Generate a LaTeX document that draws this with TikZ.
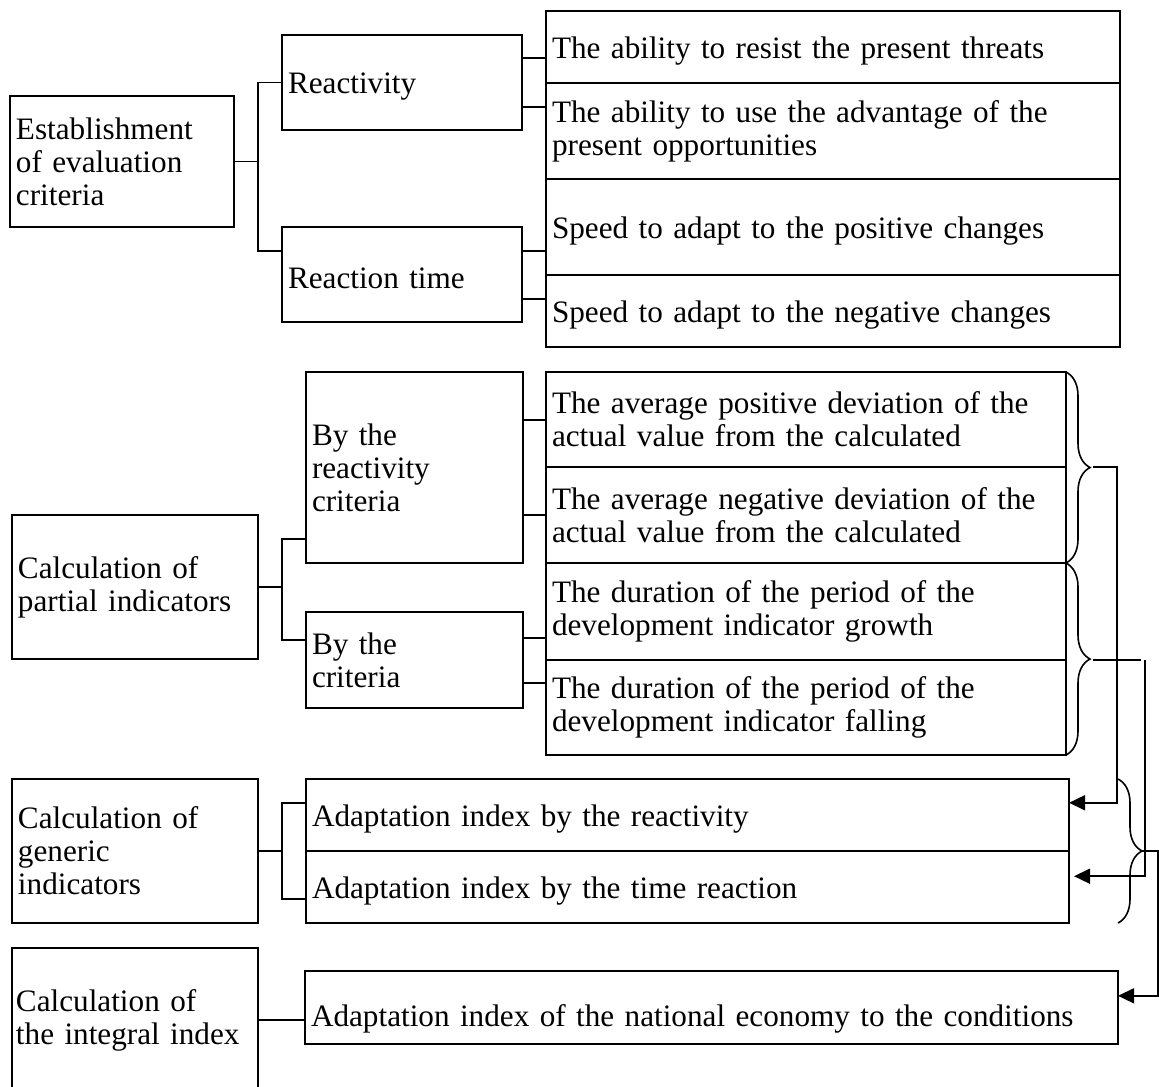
\documentclass[tikz,border=0pt]{standalone}
\usepackage{fontspec}
\setmainfont{Liberation Serif}
\usetikzlibrary{calc,arrows.meta,decorations.pathreplacing}
\newcommand\chartfont{\fontsize{15.6pt}{16.5pt}\selectfont}
\begin{document}
\begin{tikzpicture}[x=0.5pt,y=-0.5pt,
  box/.style={draw, line width=0.95pt, rectangle, anchor=north west,
    inner xsep=3pt, inner ysep=0pt, outer sep=0pt, align=left, font=\chartfont},
  oneline/.style={text height=14.5pt},
  link/.style={line width=0.8pt},
  arr/.style={line width=0.8pt, -{Triangle[length=8pt,width=7.5pt]}},
  brc/.style={line width=0.8pt, decorate, decoration={brace, amplitude=12pt}}
]
\useasboundingbox (0,0) rectangle (1159,1086);

% --- stage 1: evaluation criteria
\node[box, text width=106pt, minimum height=65.5pt] (A) at (10,96) {Establishment\\of evaluation\\criteria};
\node[box, oneline, text width=114pt, minimum height=47.5pt] (R1) at (282,35) {Reactivity};
\node[box, oneline, text width=114pt, minimum height=47.5pt] (R2) at (282,227) {Reaction time};
\node[box, oneline, text width=281pt, minimum height=36pt] (T1) at (546,11) {The ability to resist the present threats};
\node[box, text width=281pt, minimum height=48pt] (T2) at (546,83) {The ability to use the advantage of the\\present opportunities};
\node[box, oneline, text width=281pt, minimum height=48pt] (T3) at (546,179) {Speed to adapt to the positive changes};
\node[box, oneline, text width=281pt, minimum height=36pt] (T4) at (546,275) {Speed to adapt to the negative changes};

% --- stage 2: partial indicators
\node[box, text width=117pt, minimum height=72pt] (B) at (12,515) {Calculation of\\partial indicators};
\node[box, text width=102.5pt, minimum height=95.5pt] (M1) at (306,372) {By the\\reactivity\\criteria};
\node[box, text width=102.5pt, minimum height=48pt] (M2) at (306,612) {By the\\criteria};
\node[box, text width=254pt, minimum height=47.5pt] (P1) at (546,372) {The average positive deviation of the\\actual value from the calculated};
\node[box, text width=254pt, minimum height=48pt] (P2) at (546,467) {The average negative deviation of the\\actual value from the calculated};
\node[box, text width=254pt, minimum height=48.5pt] (P3) at (546,563) {The duration of the period of the\\development indicator growth};
\node[box, text width=254pt, minimum height=47.5pt] (P4) at (546,660) {The duration of the period of the\\development indicator falling};

% --- stage 3: generic indicators
\node[box, text width=117pt, minimum height=72pt] (G) at (12,779) {Calculation of\\generic\\indicators};
\node[box, oneline, text width=375.5pt, minimum height=36pt] (C1) at (306,779) {Adaptation index by the reactivity};
\node[box, oneline, text width=375.5pt, minimum height=36pt] (C2) at (306,851) {Adaptation index by the time reaction};

% --- stage 4: integral index
\node[box, inner xsep=2pt, text width=119pt, minimum height=72pt] (I) at (12,948) {Calculation of\\the integral index};
\node[box, text height=22pt, text width=400.5pt, minimum height=36.5pt] (D) at (305,971) {Adaptation index of the national economy to the conditions};

% tree connectors
\coordinate (ja) at (258,0);
\coordinate (jb) at (282,0);
\coordinate (r2in) at ($(R2.north west)!0.25!(R2.south west)$);
\draw[link] (A.east) -- (ja |- A.east);
\draw[link] (R1.west) -- (ja |- R1.west) -- (ja |- r2in) -- (r2in);

\coordinate (r1a) at ($(R1.north east)!0.24!(R1.south east)$);
\coordinate (r1b) at ($(R1.north east)!0.76!(R1.south east)$);
\coordinate (r2a) at ($(R2.north east)!0.25!(R2.south east)$);
\coordinate (r2b) at ($(R2.north east)!0.76!(R2.south east)$);
\draw[link] (r1a) -- (T1.west |- r1a);
\draw[link] (r1b) -- (T2.west |- r1b);
\draw[link] (r2a) -- (T3.west |- r2a);
\draw[link] (r2b) -- (T4.west |- r2b);

\coordinate (m1in) at ($(M1.north west)!0.874!(M1.south west)$);
\coordinate (m2in) at ($(M2.north west)!0.29!(M2.south west)$);
\draw[link] (B.east) -- (jb |- B.east);
\draw[link] (m1in) -- (jb |- m1in) -- (jb |- m2in) -- (m2in);

\coordinate (m1a) at ($(M1.north east)!0.25!(M1.south east)$);
\coordinate (m1b) at ($(M1.north east)!0.75!(M1.south east)$);
\coordinate (m2a) at ($(M2.north east)!0.27!(M2.south east)$);
\coordinate (m2b) at ($(M2.north east)!0.74!(M2.south east)$);
\draw[link] (m1a) -- (P1.west |- m1a);
\draw[link] (m1b) -- (P2.west |- m1b);
\draw[link] (m2a) -- (P3.west |- m2a);
\draw[link] (m2b) -- (P4.west |- m2b);

\coordinate (c1in) at ($(C1.north west)!0.33!(C1.south west)$);
\coordinate (c2in) at ($(C2.north west)!0.67!(C2.south west)$);
\draw[link] (G.east) -- (jb |- G.east);
\draw[link] (c1in) -- (jb |- c1in) -- (jb |- c2in) -- (c2in);

\draw[link] (I.east) -- (D.west |- I.east);

% braces grouping the indicators
\draw[brc] (P1.north east) -- (P2.south east);
\draw[brc] (P3.north east) -- (P4.south east);
\draw[brc] ($(C1.north east)+(49,0)$) -- ($(C2.south east)+(49,0)$);
\coordinate (tipa) at ($(P1.south east)+(24,0)$);
\coordinate (tipb) at ($(P3.south east)+(24,0)$);
\coordinate (tipc) at ($(C1.south east)+(73,0)$);

% feedback arrows
\coordinate (va) at (1117,0);
\coordinate (vb) at (1141,0);
\coordinate (vc) at (1145,0);
\coordinate (vd) at (1158,0);
\coordinate (c1out) at ($(C1.north east)!0.33!(C1.south east)$);
\coordinate (c2out) at ($(C2.north east)!0.35!(C2.south east)$);
\coordinate (dout) at ($(D.north east)!0.34!(D.south east)$);
\draw[arr] ($(tipa)+(3,0)$) -- (va |- tipa) -- (va |- c1out) -- (c1out);
\draw[link] ($(tipb)+(3,0)$) -- (vb |- tipb);
\draw[arr] (vc |- tipb) -- (vc |- c2out) -- ($(c2out)+(5,0)$);
\draw[arr] (tipc) -- (vd |- tipc) -- (vd |- dout) -- (dout);
\end{tikzpicture}
\end{document}
